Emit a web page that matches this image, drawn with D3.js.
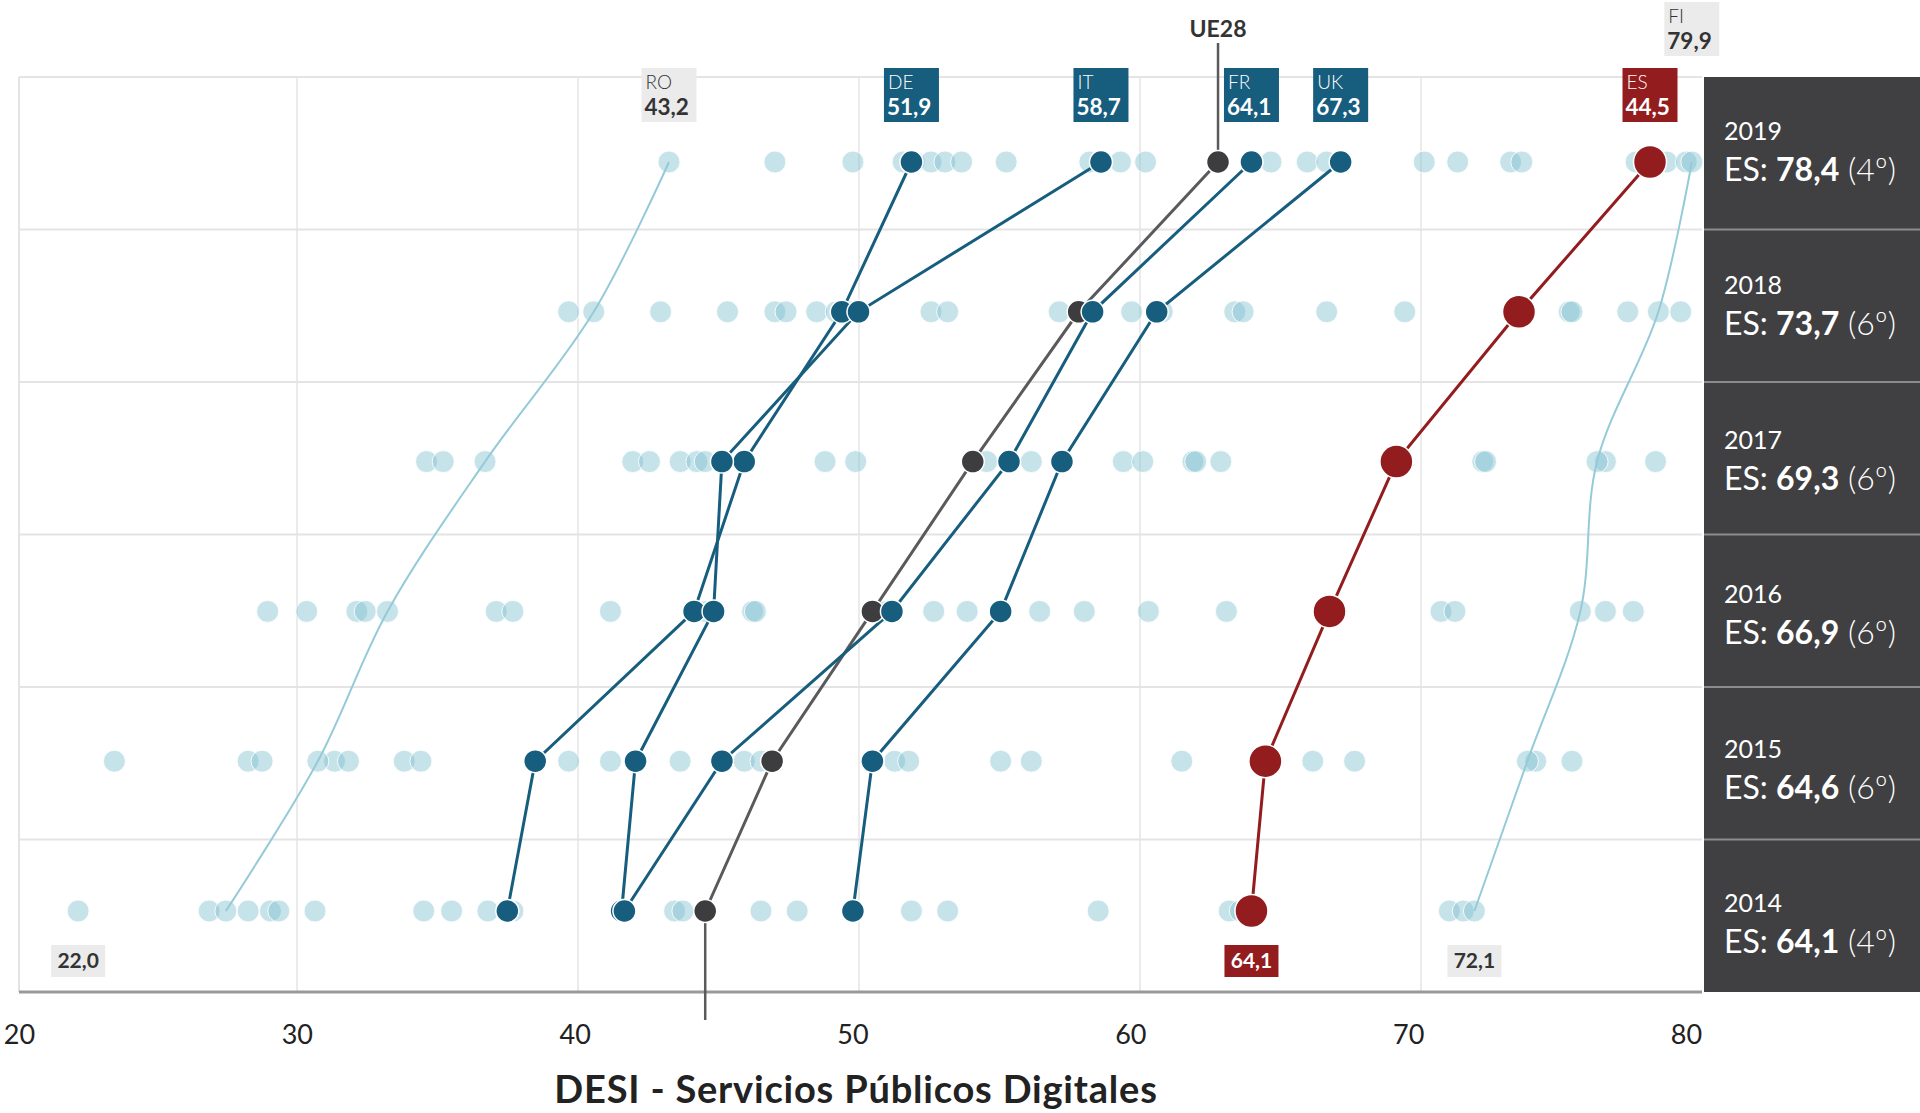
<!DOCTYPE html>
<html><head><meta charset="utf-8">
<script src="https://cdn.jsdelivr.net/npm/d3@7"></script>
<style>
html,body{margin:0;padding:0;background:#fff;}
svg{display:block;font-family:Lato,"Open Sans",sans-serif;}
text{white-space:pre;}
</style></head><body>
<svg id="chart" width="1920" height="1113"></svg>
<script>
// ---------- DATA ----------
const years = [2019, 2018, 2017, 2016, 2015, 2014];
const xTicks = [20, 30, 40, 50, 60, 70, 80];

const esValues = [78.4, 73.7, 69.3, 66.9, 64.6, 64.1];
const esRanks  = [4, 6, 6, 6, 6, 4];
const ue28Values = [62.9, 57.9, 54.1, 50.5, 46.9, 44.5];
const deValues = [51.9, 49.4, 45.9, 44.1, 38.4, 37.4];
const itValues = [58.7, 50.0, 45.1, 44.8, 42.0, 41.5];
const frValues = [64.1, 58.4, 55.4, 51.2, 45.1, 41.6];
const ukValues = [67.3, 60.7, 57.3, 55.1, 50.5, 49.8];
const roValues = [43.2, 40.5, 36.6, 33.1, 30.6, 27.3];
const fiValues = [79.9, 78.7, 76.5, 75.9, 74.0, 72.1];

const others2019 = [47.0, 49.8, 51.6, 52.0, 52.6, 53.1, 53.7, 55.3, 58.3, 59.4, 60.3, 64.8, 66.1, 66.8, 70.3, 71.5, 73.4, 73.8, 77.9, 79.0, 79.7];
const others2018 = [39.6, 42.9, 45.3, 47.0, 47.4, 48.5, 49.2, 49.7, 52.6, 53.2, 57.2, 59.8, 60.9, 63.5, 63.8, 66.8, 69.6, 75.5, 75.6, 77.6, 79.5];
const others2017 = [34.5, 35.1, 41.9, 42.5, 43.6, 44.2, 44.5, 48.8, 49.9, 54.6, 56.2, 59.5, 60.2, 62.0, 62.1, 63.0, 72.4, 72.5, 76.8, 78.6];
const others2016 = [28.8, 30.2, 32.0, 32.3, 37.0, 37.6, 41.1, 44.5, 46.2, 46.3, 51.0, 52.7, 53.9, 56.5, 58.1, 60.4, 63.2, 70.9, 71.4, 76.8, 77.8];
const others2015 = [23.3, 28.1, 28.6, 31.2, 31.7, 33.7, 34.3, 39.6, 41.1, 43.6, 45.9, 46.5, 51.3, 51.8, 55.1, 56.2, 61.6, 66.3, 67.8, 74.3, 75.6];
const others2014 = [22.0, 26.7, 28.1, 28.9, 29.2, 30.5, 34.4, 35.4, 36.7, 37.6, 43.4, 43.7, 46.5, 47.8, 51.9, 53.2, 58.6, 63.3, 63.7, 71.2, 71.7];
const othersByYear = [others2019, others2018, others2017, others2016, others2015, others2014];

const topCodes  = ["RO", "DE", "IT", "FR", "UK", "ES", "FI"];
const topValues = [43.2, 51.9, 58.7, 64.1, 67.3, 78.4, 79.9];
const topTexts  = ["43,2", "51,9", "58,7", "64,1", "67,3", "44,5", "79,9"];
const topKinds  = ["grey", "blue", "blue", "blue", "blue", "red", "grey"];

const bottomValues = [22.0, 64.1, 72.1];
const bottomKinds  = ["grey", "red", "grey"];

const axisTitle = "DESI - Servicios Públicos Digitales";
const ueLabel = "UE28";

// ---------- LAYOUT ----------
const W = 1920, H = 1113;
const svg = d3.select("#chart");
const x = d3.scaleLinear().domain([20, 80]).range([22.4, 1694.6]);
const xGrid = d3.scaleLinear().domain([20, 80]).range([16, 1702]);
const xLab = d3.scaleLinear().domain([20, 80]).range([19, 1686]);
const yBand = d3.scaleBand().domain(years).range([77, 992]);
const yDot = d3.scalePoint().domain(years).range([162, 911]);
const yText = d3.scalePoint().domain(years).range([140, 912]);
const plotL = xGrid(20), plotR = xGrid(80), plotT = yBand.range()[0], plotB = yBand.range()[1];
const fmt = v => d3.format(".1f")(v).replace(".", ",");

const C = {
  grid: "#e4e4e4", light: "#80bfcf", lightLine: "#95cad8",
  blue: "#175d7e", red: "#931c1f", ue: "#3d3d3f", ueLine: "#5a5a5c",
  panel: "#404042", panelSep: "#8c8c8c",
  boxGrey: "#ebebeb"
};
const kindFill = {grey: C.boxGrey, blue: C.blue, red: C.red};
const kindText = {grey: "#333", blue: "#fff", red: "#fff"};

// grid
const grid = svg.append("g");
grid.selectAll("line.v").data(xTicks.slice(0, -1)).join("line").attr("class", "v")
  .attr("x1", d => xGrid(d) + (d === 20 ? 3 : 0)).attr("x2", d => xGrid(d) + (d === 20 ? 3 : 0))
  .attr("y1", plotT).attr("y2", plotB)
  .attr("stroke", C.grid).attr("stroke-width", d => d === 20 ? 2 : 1.5);
grid.selectAll("line.h").data(years).join("line").attr("class", "h")
  .attr("x1", plotL + 3).attr("x2", plotR)
  .attr("y1", d => yBand(d)).attr("y2", d => yBand(d))
  .attr("stroke", C.grid).attr("stroke-width", 2);

// right panel
const panelX = plotR + 2;
svg.append("rect").attr("x", panelX).attr("y", plotT).attr("width", W - panelX).attr("height", plotB - plotT).attr("fill", C.panel);
svg.append("g").selectAll("line").data(years.slice(1)).join("line")
  .attr("x1", panelX).attr("x2", W).attr("y1", d => yBand(d)).attr("y2", d => yBand(d))
  .attr("stroke", C.panelSep).attr("stroke-width", 2);

const pt = svg.append("g").attr("fill", "#fff");
years.forEach((yr, i) => {
  pt.append("text").attr("x", panelX + 20).attr("y", yText(yr)).attr("font-size", 25).attr("font-weight", 400).text(yr);
  const t = pt.append("text").attr("x", panelX + 20).attr("y", yText(yr) + 41).attr("font-size", 32);
  t.append("tspan").attr("font-weight", 400).text("ES: ");
  t.append("tspan").attr("font-weight", 700).text(fmt(esValues[i]));
  t.append("tspan").attr("font-weight", 300).text(" (" + esRanks[i] + "º)");
});

// axis
svg.append("line").attr("x1", plotL + 3).attr("x2", plotR).attr("y1", plotB).attr("y2", plotB)
  .attr("stroke", "#999").attr("stroke-width", 3);
const axis = d3.axisBottom(xLab).tickValues(xTicks).tickSize(0).tickFormat(d3.format("d"));
const ag = svg.append("g").attr("transform", `translate(0,${plotB})`).call(axis);
ag.select(".domain").remove();
ag.selectAll("text").attr("y", 52).attr("dy", null)
  .attr("font-size", 27).attr("font-family", "Lato, sans-serif").attr("fill", "#222");
svg.append("text").attr("x", 856).attr("y", 1103).attr("text-anchor", "middle")
  .attr("font-size", 38).attr("font-weight", 700).attr("letter-spacing", 0.8).attr("fill", "#222").text(axisTitle);

// light dots (all countries)
const named = [roValues, deValues, itValues, frValues, ukValues, esValues, fiValues];
const lightData = [];
years.forEach((yr, i) => {
  othersByYear[i].concat(named.map(a => a[i])).forEach(v => lightData.push({year: yr, v}));
});
svg.append("g").selectAll("circle").data(lightData).join("circle")
  .attr("cx", d => x(d.v)).attr("cy", d => yDot(d.year)).attr("r", 11)
  .attr("fill", C.light).attr("fill-opacity", 0.44)
  .attr("stroke", "#fff").attr("stroke-width", 1).attr("stroke-opacity", 0.85);

const toPts = vals => years.map((yr, i) => ({year: yr, v: vals[i]}));
const line = d3.line().x(d => x(d.v)).y(d => yDot(d.year));
const curve = d3.line().x(d => x(d.v)).y(d => yDot(d.year)).curve(d3.curveCatmullRom.alpha(0.5));

// light lines RO, FI
svg.append("g").selectAll("path").data([roValues, fiValues]).join("path")
  .attr("d", d => curve(toPts(d))).attr("fill", "none").attr("stroke", C.lightLine).attr("stroke-width", 2);

// UE28 leader lines
svg.append("line").attr("x1", x(ue28Values[0])).attr("x2", x(ue28Values[0]))
  .attr("y1", 43).attr("y2", yDot(2019)).attr("stroke", C.ueLine).attr("stroke-width", 2.5);
svg.append("line").attr("x1", x(ue28Values[5])).attr("x2", x(ue28Values[5]))
  .attr("y1", yDot(2014)).attr("y2", 1020).attr("stroke", C.ueLine).attr("stroke-width", 2.5);
svg.append("text").attr("x", x(ue28Values[0])).attr("y", 37).attr("text-anchor", "middle")
  .attr("font-size", 23).attr("font-weight", 700).attr("fill", "#333").text(ueLabel);

// dark lines
const darkSeries = [
  {vals: ue28Values, color: C.ueLine},
  {vals: deValues, color: C.blue}, {vals: itValues, color: C.blue},
  {vals: frValues, color: C.blue}, {vals: ukValues, color: C.blue},
  {vals: esValues, color: C.red}
];
svg.append("g").selectAll("path").data(darkSeries).join("path")
  .attr("d", d => line(toPts(d.vals))).attr("fill", "none")
  .attr("stroke", d => d.color).attr("stroke-width", 3);

// dark dots
const dotSeries = [
  {vals: ue28Values, color: C.ue, r: 11.5},
  {vals: deValues, color: C.blue, r: 11.5}, {vals: itValues, color: C.blue, r: 11.5},
  {vals: frValues, color: C.blue, r: 11.5}, {vals: ukValues, color: C.blue, r: 11.5},
  {vals: esValues, color: C.red, r: 16.5}
];
dotSeries.forEach(s => {
  svg.append("g").selectAll("circle").data(toPts(s.vals)).join("circle")
    .attr("cx", d => x(d.v)).attr("cy", d => yDot(d.year)).attr("r", s.r)
    .attr("fill", s.color).attr("stroke", "#fff").attr("stroke-width", 1.5);
});

// top labels
const tl = svg.append("g");
topCodes.forEach((code, i) => {
  const cx = x(topValues[i]);
  const top = code === "FI" ? 2 : 68;
  const g = tl.append("g").attr("transform", `translate(${cx - 27.5},${top})`);
  g.append("rect").attr("width", 55).attr("height", 54).attr("fill", kindFill[topKinds[i]]);
  g.append("text").attr("x", 4).attr("y", 21).attr("font-size", 19).attr("font-weight", 300)
    .attr("fill", kindText[topKinds[i]]).text(code);
  g.append("text").attr("x", 3).attr("y", 47).attr("font-size", 22.5).attr("font-weight", 700)
    .attr("fill", kindText[topKinds[i]]).text(topTexts[i]);
});

// bottom labels
bottomValues.forEach((v, i) => {
  const g = svg.append("g").attr("transform", `translate(${x(v) - 27},945)`);
  g.append("rect").attr("width", 54).attr("height", 32).attr("fill", kindFill[bottomKinds[i]]);
  g.append("text").attr("x", 27).attr("y", 23).attr("text-anchor", "middle")
    .attr("font-size", 21).attr("font-weight", 700).attr("fill", kindText[bottomKinds[i]]).text(fmt(v));
});
</script>
</body></html>
